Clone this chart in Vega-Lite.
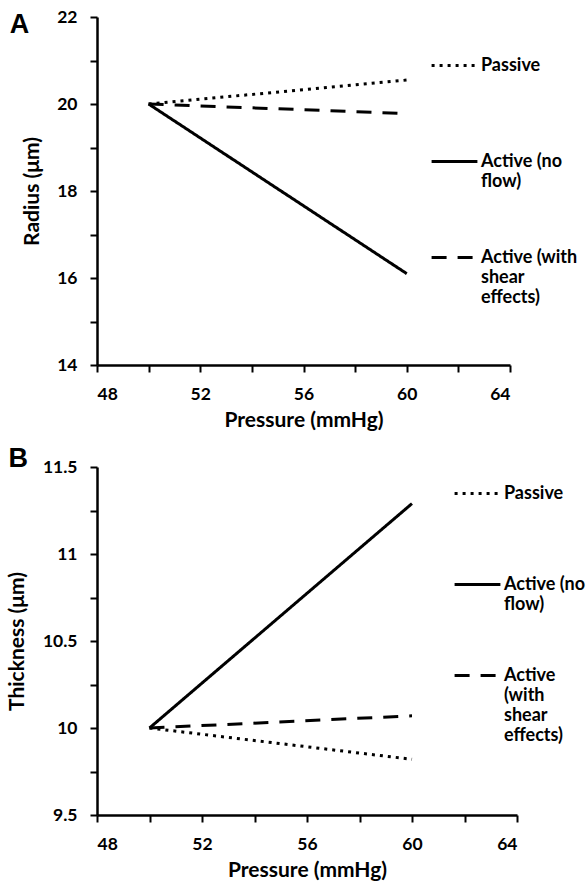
{
  "$schema": "https://vega.github.io/schema/vega-lite/v6.json",
  "background": "white",
  "padding": {"left": 6, "top": 8, "right": 0, "bottom": 0},
  "spacing": 14,
  "resolve": {"scale": {"strokeDash": "independent"}, "legend": {"strokeDash": "independent"}},
  "config": {
    "font": "Lato",
    "view": {"stroke": null},
    "line": {"color": "black", "strokeWidth": 3},
    "axis": {
      "domainColor": "black", "domainWidth": 2.5, "tickColor": "black", "tickWidth": 2, "tickSize": 7,
      "grid": false, "labelFont": "Lato", "labelFontWeight": "bold", "labelFontSize": 17.5, "labelColor": "black",
      "titleFont": "Lato", "titleFontWeight": "bold", "titleFontSize": 21, "titleColor": "black"
    },
    "axisX": {"labelPadding": 13, "titlePadding": 7},
    "axisY": {"labelPadding": 13, "titlePadding": 14},
    "legend": {
      "orient": "none", "title": null, "symbolType": "stroke", "symbolSize": 2100, "symbolStrokeWidth": 3,
      "symbolStrokeColor": "black", "labelFont": "Lato", "labelFontSize": 18, "labelFontWeight": "bold",
      "labelColor": "black", "labelOffset": 2, "labelLimit": 300
    },
    "title": {"font": "Liberation Sans", "fontSize": 27, "fontWeight": "bold", "color": "black", "anchor": "start", "frame": "bounds"}
  },
  "datasets": {
    "radius": [
      {"series": "Passive", "pressure": 50, "radius": 20},
      {"series": "Passive", "pressure": 60, "radius": 20.55},
      {"series": "Active (no flow)", "pressure": 50, "radius": 20},
      {"series": "Active (no flow)", "pressure": 60, "radius": 16.1},
      {"series": "Active (with shear effects)", "pressure": 50, "radius": 20},
      {"series": "Active (with shear effects)", "pressure": 60, "radius": 19.78}
    ],
    "thickness": [
      {"series": "Passive", "pressure": 50, "thickness": 10},
      {"series": "Passive", "pressure": 60, "thickness": 9.82},
      {"series": "Active (no flow)", "pressure": 50, "thickness": 10},
      {"series": "Active (no flow)", "pressure": 60, "thickness": 11.29},
      {"series": "Active (with shear effects)", "pressure": 50, "thickness": 10},
      {"series": "Active (with shear effects)", "pressure": 60, "thickness": 10.07}
    ]
  },
  "vconcat": [
    {
      "title": {"text": "A", "dx": -12, "dy": 35},
      "width": 413, "height": 348,
      "data": {"name": "radius"},
      "mark": {"type": "line"},
      "encoding": {
        "x": {"field": "pressure", "type": "quantitative", "scale": {"domain": [48, 64]},
          "axis": {"values": [48, 50, 52, 54, 56, 58, 60, 62, 64], "labelExpr": "datum.value % 4 == 0 ? datum.label : ''", "title": "Pressure (mmHg)"}},
        "y": {"field": "radius", "type": "quantitative", "scale": {"domain": [14, 22]},
          "axis": {"values": [14, 15, 16, 17, 18, 19, 20, 21, 22], "labelExpr": "datum.value % 2 == 0 ? datum.label : ''", "title": "Radius (μm)"}},
        "strokeDash": {"field": "series", "type": "nominal",
          "scale": {"domain": ["Passive", "Active (no flow)", "Active (with shear effects)"], "range": [[3, 5], [1, 0], [15, 11]]},
          "legend": {"legendX": 333, "legendY": 24, "rowPadding": 42,
            "labelExpr": "datum.label == 'Passive' ? ['Passive', ' '] : datum.label == 'Active (no flow)' ? ['Active (no', 'flow)'] : ['Active (with', 'shear', 'effects)']",
            "encode": {"labels": {"update": {"lineHeight": {"value": 23}}}}}}
      }
    },
    {
      "title": {"text": "B", "dx": 2, "dy": 19},
      "width": 420, "height": 348,
      "data": {"name": "thickness"},
      "mark": {"type": "line"},
      "encoding": {
        "x": {"field": "pressure", "type": "quantitative", "scale": {"domain": [48, 64]},
          "axis": {"values": [48, 50, 52, 54, 56, 58, 60, 62, 64], "labelExpr": "datum.value % 4 == 0 ? datum.label : ''", "title": "Pressure (mmHg)"}},
        "y": {"field": "thickness", "type": "quantitative", "scale": {"domain": [9.5, 11.5]},
          "axis": {"values": [9.5, 9.75, 10, 10.25, 10.5, 10.75, 11, 11.25, 11.5], "labelExpr": "(datum.value * 2) % 1 == 0 ? datum.label : ''", "format": "~g", "title": "Thickness (μm)", "titlePadding": 15}},
        "strokeDash": {"field": "series", "type": "nominal",
          "scale": {"domain": ["Passive", "Active (no flow)", "Active (with shear effects)"], "range": [[3, 5], [1, 0], [15, 11]]},
          "legend": {"legendX": 356, "legendY": 2, "rowPadding": 37,
            "labelExpr": "datum.label == 'Passive' ? ['Passive', ' '] : datum.label == 'Active (no flow)' ? ['Active (no', 'flow)'] : ['Active', '(with', 'shear', 'effects)']",
            "encode": {"labels": {"update": {"lineHeight": {"value": 24.5}}}}}}
      }
    }
  ]
}
